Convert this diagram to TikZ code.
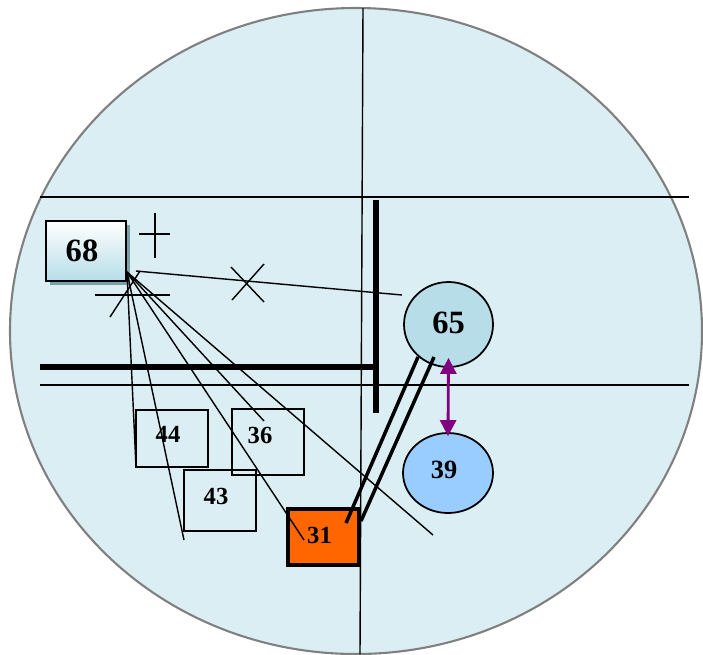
\documentclass[tikz,border=0pt]{standalone}
\usepackage{fontspec}
\setmainfont{Liberation Serif}
\usepackage{tikz}
\usetikzlibrary{shapes.geometric,arrows.meta,positioning,shadows}
\definecolor{fieldBlue}{RGB}{219,238,244}
\definecolor{rimGray}{RGB}{128,128,128}
\definecolor{capBlue}{RGB}{183,221,232}
\definecolor{skyBlue}{RGB}{153,204,255}
\definecolor{shadowBlue}{RGB}{122,160,170}
\definecolor{hotOrange}{RGB}{255,102,0}
\definecolor{arrowPurple}{RGB}{128,0,128}

\begin{document}
\begin{tikzpicture}[x=0.02cm, y=-0.02cm,
          thinline/.style={draw=black, line width=0.8pt},
          heavyline/.style={draw=black, line width=3.4pt},
          pairline/.style={draw=black, line width=2pt},
          nudge/.style={text depth=#1, execute at begin node={\hspace*{-0.16cm}}},
          smallbox/.style={rectangle, draw=black, line width=1.1pt, nudge=0.16cm,
            minimum width=1.44cm, font=\fontsize{14}{16}\selectfont\bfseries, inner sep=0pt},
          disc/.style={ellipse, draw=black, line width=1pt, inner sep=0pt,
            font=\bfseries},
          >=Stealth
        ]
          \useasboundingbox (0,0) rectangle (703,654);
          % field
          \draw[fill=fieldBlue, draw=rimGray, line width=1.2pt] (356,331) ellipse [x radius=346, y radius=323];
          \draw[thinline] (363,8) -- (360,654);
          \draw[thinline] (40,197) -- (689,197);
          \draw[thinline] (40,385) -- (689,385);
          \draw[heavyline] (40,367) -- (378,367);
          \draw[heavyline] (376,200) -- (376,413);
          % marks
          \draw[thinline] (155,213) -- (155,258);
          \draw[thinline] (139,234) -- (170,234);
          \draw[thinline] (231,267) -- (264,302);
          \draw[thinline] (264,264) -- (232,300);
          \draw[thinline] (95,295) -- (170,295);
          \draw[thinline] (110,317) -- (140,271);
          % players
          \node[rectangle, draw=black, line width=1.6pt, minimum width=1.6cm, minimum height=1.2cm,
            top color=white, bottom color=capBlue, inner sep=0pt, nudge=0cm,
            drop shadow={shadow xshift=0.08cm, shadow yshift=-0.08cm, fill=shadowBlue, opacity=1},
            font=\fontsize{18.5}{20}\selectfont\bfseries] (n68) at (86,251) {68};
          \node[smallbox, minimum height=1.14cm] (n44) at (172,438.5) {44};
          \node[smallbox, minimum height=1.32cm, nudge=0.28cm] (n36) at (268,442) {36};
          \node[smallbox, minimum height=1.22cm] (n43) at (220,500.5) {43};
          \node[smallbox, fill=hotOrange, line width=2.3pt, minimum width=1.42cm,
            minimum height=1.12cm, text depth=0.08cm, execute at begin node={}] (n31) at (323.5,537) {31};
          \node[disc, fill=capBlue, minimum width=1.78cm, minimum height=1.7cm, text depth=0.08cm,
            font=\fontsize{18.5}{20}\selectfont\bfseries] (n65) at (448.5,324.5) {65};
          \node[disc, fill=skyBlue, minimum width=1.8cm, minimum height=1.6cm, nudge=0.12cm,
            font=\fontsize{15}{17}\selectfont\bfseries] (n39) at (448,473) {39};
          % ends of the runs
          \coordinate (hub) at (127,272);
          \coordinate (mark) at (136,271);
          \coordinate (e65) at (402,295);
          \coordinate (e44) at (136,467);
          \coordinate (e43) at (184,540);
          \coordinate (e31) at (304,540);
          \coordinate (e36) at (264,421);
          \coordinate (eFar) at (433,535);
          \coordinate (p1) at (418,357);
          \coordinate (p2) at (434,357);
          \coordinate (q1) at (346,523);
          \coordinate (q2) at (361,521);
          % runs
          \draw[thinline] (mark) -- (e65);
          \draw[thinline] (hub) -- (e44);
          \draw[thinline] (hub) -- (e43);
          \draw[thinline] (hub) -- (e31);
          \draw[thinline] (hub) -- (e36);
          \draw[thinline] (hub) -- (eFar);
          \draw[pairline] (p1) -- (q1);
          \draw[pairline] (p2) -- (q2);
          \draw[draw=arrowPurple, fill=arrowPurple, line width=1.6pt,
            arrows={Triangle[width=0.32cm,length=0.32cm]-Triangle[width=0.32cm,length=0.32cm]}]
            ([yshift=0.2cm]n65.south) -- ([yshift=-0.08cm]n39.north);
        \end{tikzpicture}
\end{document}
